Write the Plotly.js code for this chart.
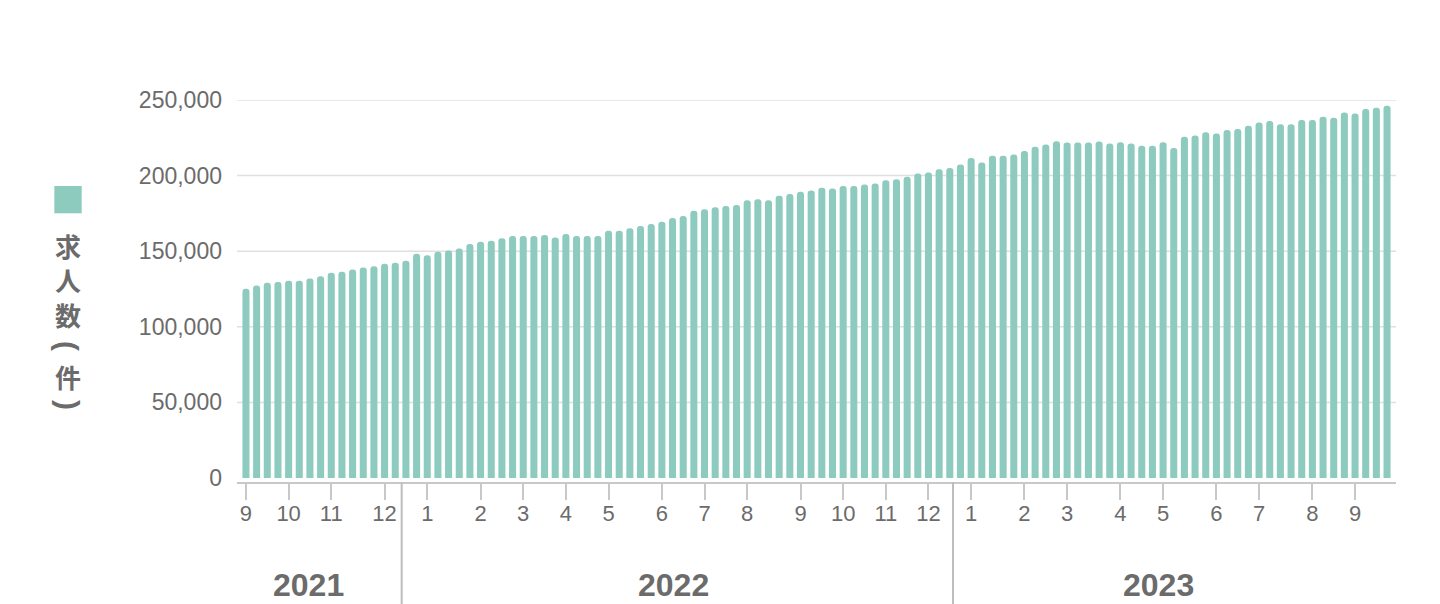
<!DOCTYPE html>
<html>
<head>
<meta charset="utf-8">
<script src="https://cdn.plot.ly/plotly-3.0.1.min.js"></script>
<style>
  html, body { margin: 0; padding: 0; background: #ffffff; }
  #chart { width: 1440px; height: 604px; }
</style>
</head>
<body>
<div id="chart"></div>
<script>
// Weekly job-posting counts (求人数, 件), Sep 2021 – Sep 2023
const jobCounts = [
  125100, 127300, 129100, 129700, 130400, 130400, 132000, 133500, 135700, 136400,
  137900, 139300, 140100, 141700, 142300, 143700, 148300, 147400, 149600, 150500,
  151800, 154700, 156300, 156900, 158500, 160000, 160000, 160000, 160700, 159100,
  161400, 160000, 160000, 160000, 163600, 163600, 165100, 166700, 168000, 169500,
  172000, 173300, 176800, 177700, 179000, 179900, 180600, 183700, 184300, 183700,
  186600, 187900, 189400, 190100, 191900, 191400, 193200, 193200, 194100, 194700,
  196900, 197600, 199200, 201400, 202000, 204200, 205100, 207300, 211700, 208700,
  213100, 213100, 214000, 216200, 219000, 220600, 222800, 221900, 221900, 221900,
  222600, 221300, 222100, 221300, 219700, 219700, 222100, 218200, 225700, 226600,
  228600, 227900, 230100, 230800, 233000, 235200, 236100, 233900, 233900, 236700,
  236700, 238900, 238300, 241800, 241100, 244000, 244900, 246200
];

// First week of each month (week index) and its month label
const monthStartWeeks = [0, 4, 8, 13, 17, 22, 26, 30, 34, 39, 43, 47, 52, 56, 60, 64, 68, 73, 77, 82, 86, 91, 95, 100, 104];
const monthLabels = ['9', '10', '11', '12', '1', '2', '3', '4', '5', '6', '7', '8', '9', '10', '11', '12', '1', '2', '3', '4', '5', '6', '7', '8', '9'];

// Year labels and year boundaries (between the December and January weeks)
const yearLabels = ['2021', '2022', '2023'];
const yearLabelPos = [5.9, 40.05, 85.55];
const yearBoundaries = [14.6, 66.3];

// Y axis ticks
const yTickVals = [0, 50000, 100000, 150000, 200000, 250000];
const yTickText = ['0', '50,000', '100,000', '150,000', '200,000', '250,000'];

// Vertical legend title 求人数（件）
const legendTitleChars = ['求', '人', '数', '(', '件', ')'];
const legendCharRotated = [false, false, false, true, false, true];
const legendCharY = [0.6191, 0.5288, 0.4372, 0.3560, 0.2749, 0.2016];

const weekIndex = jobCounts.map((_, i) => i);

const barColor = '#8ecbbf';
const textColor = '#6b6b6b';
const latinFont = '"Liberation Sans", Arial, Helvetica, sans-serif';
const cjkFont = '"Noto Sans CJK JP", "Noto Sans CJK SC", sans-serif';

const trace = {
  type: 'bar',
  x: weekIndex,
  y: jobCounts,
  marker: { color: barColor, cornerradius: 3, line: { width: 0 } },
  name: '求人数（件）',
  hoverinfo: 'y',
  showlegend: false
};

const shapes = [];
// horizontal gridlines (not at zero)
yTickVals.filter(v => v > 0).forEach(v => {
  shapes.push({
    type: 'line', xref: 'paper', yref: 'y', x0: 0, x1: 1, y0: v, y1: v,
    line: { color: '#e0e0e0', width: 1.5 }, layer: 'below'
  });
});
// year boundary lines
yearBoundaries.forEach(b => {
  shapes.push({
    type: 'line', xref: 'x', yref: 'paper', x0: b, x1: b, y0: 0, y1: -0.33,
    line: { color: '#bdbdbd', width: 2 }
  });
});
// legend square
shapes.push({
  type: 'rect', xref: 'paper', yref: 'paper',
  x0: -0.1576, x1: -0.1340, y0: 0.7034, y1: 0.7749,
  fillcolor: barColor, line: { width: 0 }
});

const annotations = [];
yearLabels.forEach((t, i) => {
  annotations.push({
    text: '<b>' + t + '</b>', xref: 'x', yref: 'paper', x: yearLabelPos[i], y: -0.2696,
    showarrow: false, xanchor: 'center', yanchor: 'middle',
    font: { family: latinFont, size: 32, color: textColor }
  });
});
legendTitleChars.forEach((c, i) => {
  const rot = legendCharRotated[i];
  annotations.push({
    text: '<b>' + c + '</b>', xref: 'paper', yref: 'paper', x: -0.1458, y: legendCharY[i],
    showarrow: false, xanchor: 'center', yanchor: 'middle',
    textangle: rot ? 90 : 0,
    font: rot ? { family: latinFont, size: 30, color: textColor }
              : { family: cjkFont, size: 26, color: textColor }
  });
});

const layout = {
  width: 1440,
  height: 604,
  margin: { l: 237, r: 44, t: 100, b: 122, pad: 0 },
  paper_bgcolor: '#ffffff',
  plot_bgcolor: '#ffffff',
  bargap: 0.34,
  showlegend: false,
  xaxis: {
    range: [-0.84, 107.84],
    tickmode: 'array',
    tickvals: monthStartWeeks,
    ticktext: monthLabels,
    ticks: 'outside',
    ticklen: 16,
    tickwidth: 1.5,
    tickcolor: '#c8c8c8',
    showline: true,
    linecolor: '#c8c8c8',
    linewidth: 2,
    showgrid: false,
    zeroline: false,
    ticklabelstandoff: -5,
    tickfont: { family: latinFont, size: 22, color: textColor },
    fixedrange: true
  },
  yaxis: {
    range: [-2646, 250000],
    tickmode: 'array',
    tickvals: yTickVals,
    ticktext: yTickText,
    showgrid: false,
    zeroline: false,
    showline: false,
    ticks: '',
    ticklabelstandoff: 14,
    tickfont: { family: latinFont, size: 23, color: textColor },
    fixedrange: true
  },
  shapes: shapes,
  annotations: annotations
};

Plotly.newPlot('chart', [trace], layout, { displayModeBar: false, responsive: false });
</script>
</body>
</html>
